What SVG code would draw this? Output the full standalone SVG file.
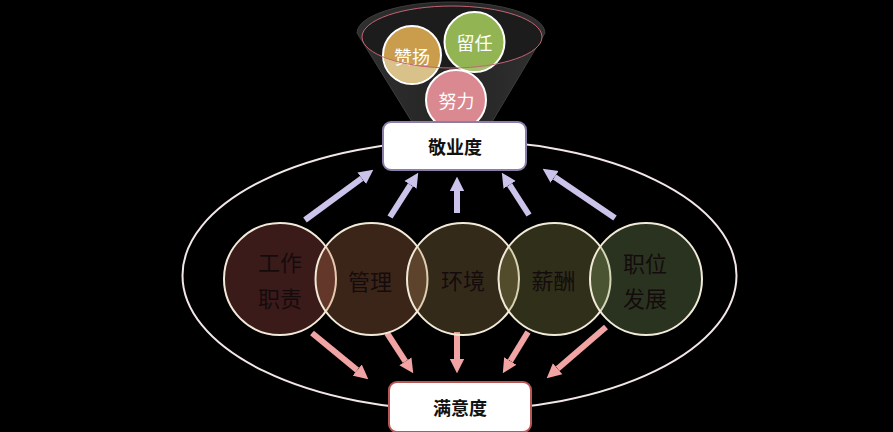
<svg xmlns="http://www.w3.org/2000/svg" width="893" height="432" viewBox="0 0 893 432">
<defs>
<style>
.cjk{font-family:"Noto Sans CJK SC","Noto Sans",sans-serif;}
.ball{stroke:#ffffff;stroke-width:2;}
.ballt{font-size:18px;fill:#ffffff;text-anchor:middle;dominant-baseline:central;}
.fac{stroke:#f2ead8;stroke-width:2;fill-opacity:0.3;}
.fact{font-size:22px;fill:#140c0c;text-anchor:middle;dominant-baseline:central;}
.box{fill:#ffffff;stroke-width:2;}
.boxt{font-size:18px;font-weight:bold;fill:#111111;text-anchor:middle;dominant-baseline:central;}
.up{stroke:#cbc3ea;stroke-width:6;fill:none;marker-end:url(#headUp);}
.down{stroke:#f2a4a4;stroke-width:6;fill:none;marker-end:url(#headDown);}
</style>
<marker id="headUp" viewBox="0 0 10 10" refX="0" refY="5" markerWidth="2.4" markerHeight="2.6" orient="auto" markerUnits="strokeWidth">
<path d="M0,0 L10,5 L0,10 Z" fill="#cbc3ea"/>
</marker>
<marker id="headDown" viewBox="0 0 10 10" refX="0" refY="5" markerWidth="2.4" markerHeight="2.6" orient="auto" markerUnits="strokeWidth">
<path d="M0,0 L10,5 L0,10 Z" fill="#f2a4a4"/>
</marker>
<clipPath id="front">
<path d="M330,37 L362,37 A90,31 0 0 0 542,37 L570,37 L570,130 L330,130 Z"/>
</clipPath>
<linearGradient id="funnelG" x1="0" y1="0" x2="1" y2="0">
<stop offset="0" stop-color="#303030"/>
<stop offset="0.5" stop-color="#242424"/>
<stop offset="1" stop-color="#303030"/>
</linearGradient>
</defs>
<rect x="0" y="0" width="893" height="432" fill="#000000"/>

<g id="funnel">
<path d="M357,33 A94,31 0 0 1 545,33 L492,122 L412,122 Z" fill="url(#funnelG)" stroke="#3c3c3c" stroke-width="1"/>
<ellipse cx="452" cy="37" rx="90" ry="31" fill="#1c1c1c"/>
</g>

<g id="ball-zanyang">
<circle class="ball" cx="412" cy="55" r="29" fill="#c99d4c"/>
<circle cx="412" cy="55" r="28" fill="#d8c289" clip-path="url(#front)"/>
<text class="cjk ballt" x="412" y="56">赞扬</text>
</g>
<g id="ball-liuren">
<circle class="ball" cx="474.5" cy="42" r="30" fill="#93b452"/>
<circle cx="474.5" cy="42" r="29" fill="#a2c070" clip-path="url(#front)"/>
<text class="cjk ballt" x="474.5" y="42">留任</text>
</g>
<ellipse id="funnel-rim" cx="452" cy="37" rx="90" ry="31" fill="none" stroke="#c46472" stroke-width="1"/>
<g id="ball-nuli">
<circle class="ball" cx="456" cy="100" r="30" fill="#d9898f"/>
<text class="cjk ballt" x="456.5" y="100">努力</text>
</g>

<ellipse id="outer-ring" cx="459.5" cy="275.5" rx="277" ry="135" fill="none" stroke="#f2e6e6" stroke-width="2"/>

<g id="connectors">
<line class="up" x1="305" y1="220" x2="361.7" y2="178.3"/>
<line class="up" x1="390" y1="217" x2="410.5" y2="184.8"/>
<line class="up" x1="457" y1="213" x2="457" y2="191"/>
<line class="up" x1="529" y1="215" x2="509.6" y2="184.8"/>
<line class="up" x1="615" y1="218" x2="554.6" y2="176.9"/>
<line class="down" x1="312" y1="333" x2="357.2" y2="370.1"/>
<line class="down" x1="387" y1="333" x2="405.4" y2="361.3"/>
<line class="down" x1="457" y1="332" x2="457" y2="359"/>
<line class="down" x1="528" y1="332" x2="510.3" y2="361"/>
<line class="down" x1="606" y1="327" x2="557.6" y2="368.8"/>
</g>

<g id="factor-gongzuo">
<circle class="fac" cx="280" cy="279" r="56" fill="#c35757"/>
<text class="cjk fact" x="280" y="261">工作</text>
<text class="cjk fact" x="280" y="297">职责</text>
</g>
<g id="factor-guanli">
<circle class="fac" cx="371.5" cy="279" r="56" fill="#c37a52"/>
<text class="cjk fact" x="370" y="280">管理</text>
</g>
<g id="factor-huanjing">
<circle class="fac" cx="463" cy="279" r="56" fill="#ab8a57"/>
<text class="cjk fact" x="463" y="279">环境</text>
</g>
<g id="factor-xinchou">
<circle class="fac" cx="554.5" cy="279" r="56" fill="#9c9b57"/>
<text class="cjk fact" x="553.5" y="279">薪酬</text>
</g>
<g id="factor-zhiwei">
<circle class="fac" cx="646" cy="279" r="56" fill="#8ca86b"/>
<text class="cjk fact" x="645" y="262">职位</text>
<text class="cjk fact" x="645" y="297">发展</text>
</g>

<g id="node-jingyedu">
<rect class="box" x="383" y="122" width="143" height="48" rx="8" stroke="#8c7ca8"/>
<text class="cjk boxt" x="455" y="146">敬业度</text>
</g>
<g id="node-manyidu">
<rect class="box" x="389" y="382" width="142" height="50" rx="8" stroke="#b85656"/>
<text class="cjk boxt" x="460" y="407">满意度</text>
</g>
</svg>
